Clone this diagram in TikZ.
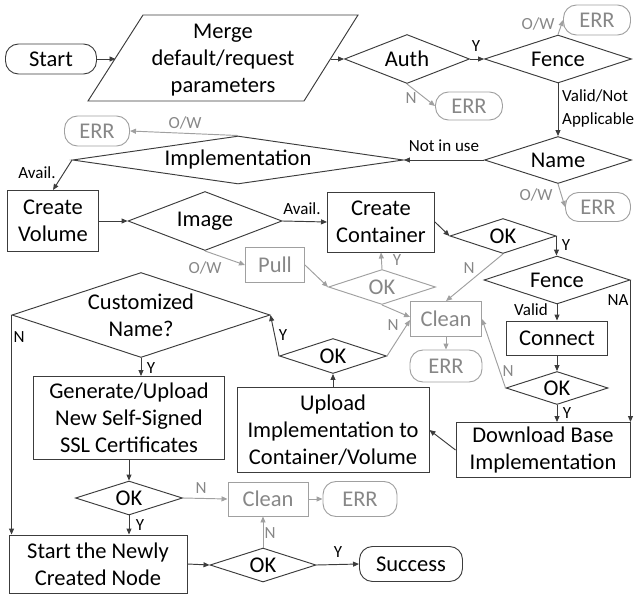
\documentclass[tikz,border=0pt]{standalone}
\usepackage{fontspec}
\setmainfont{Carlito}
\usetikzlibrary{shapes.geometric,arrows.meta}
\definecolor{ln}{RGB}{60,60,60}
\definecolor{gr}{RGB}{160,160,160}
\definecolor{grt}{RGB}{135,135,135}
\begin{document}
\begin{tikzpicture}[x=1pt,y=-1pt,
  every node/.style={font=\fontsize{22.5}{27}\selectfont, inner sep=0pt, align=center},
  box/.style 2 args={draw=ln, line width=0.95pt, rectangle, minimum width=#1, minimum height=#2},
  gbox/.style 2 args={draw=gr, text=grt, line width=0.95pt, rectangle, minimum width=#1, minimum height=#2},
  term/.style 2 args={draw=ln, line width=0.95pt, rectangle, rounded corners=13pt, minimum width=#1, minimum height=#2},
  gterm/.style 2 args={draw=gr, text=grt, line width=0.95pt, rectangle, rounded corners=13pt, minimum width=#1, minimum height=#2},
  dia/.style 2 args={draw=ln, line width=0.95pt, diamond, aspect=3, minimum width=#1, minimum height=#2},
  gdia/.style 2 args={draw=gr, text=grt, line width=0.95pt, diamond, aspect=3, minimum width=#1, minimum height=#2},
  arr/.style={draw=ln, line width=0.95pt, -{Triangle[length=6pt,width=5pt]}},
  garr/.style={draw=gr, line width=0.95pt, -{Triangle[length=6pt,width=5pt]}},
  lab/.style={font=\fontsize{17}{23}\selectfont},
  glab/.style={font=\fontsize{17}{23}\selectfont, text=grt}]
\useasboundingbox (0,0) rectangle (636,596);

% ---- nodes ----
\node[term={91}{30}] (start) at (51,59) {Start};
\draw[draw=ln, line width=0.95pt] (143,15) -- (358,15) -- (304,101) -- (88,101) -- cycle;
\node (merge) at (223,60) {Merge\\default/request\\parameters};
\coordinate (mergeL) at (115.5,59);
\coordinate (mergeR) at (331,59);
\node[dia={125}{49}] (auth) at (407,59) {Auth};
\node[dia={147}{48}] (fence1) at (558,59) {Fence};
\node[gterm={67}{30}] (err1) at (597,20) {ERR};
\node[gterm={67}{28}] (err2) at (469,106) {ERR};
\node[dia={147}{47}] (name) at (558,160) {Name};
\node[gterm={65}{29}] (err3) at (598,207) {ERR};
\node[dia={331}{48}, aspect=6.5] (impl) at (238,160) {Implementation};
\node[gterm={65}{30}] (err4) at (97,131) {ERR};
\node[box={91}{61}] (vol) at (53,221) {Create\\Volume};
\node[dia={154}{59}] (image) at (205,221) {Image};
\node[box={107}{60}] (cont) at (381,222) {Create\\Container};
\node[gbox={59}{35}] (pull) at (275,265) {Pull};
\node[gdia={107}{35}] (gok) at (382,287) {OK};
\node[gbox={71}{35}] (clean1) at (446,319) {Clean};
\node[gterm={72}{32}] (err5) at (446,366) {ERR};
\node[dia={106}{35}] (ok1) at (503,236) {OK};
\node[dia={146}{48}] (fence2) at (557,280) {Fence};
\node[box={101}{34}] (conn) at (557,338) {Connect};
\node[dia={102}{33}] (ok3) at (557,388) {OK};
\node[box={174}{55}] (down) at (543,450) {Download Base\\Implementation};
\node[box={192}{85}] (upl) at (333,430) {Upload\\Implementation to\\Container/Volume};
\node[dia={107}{35}] (ok2) at (333,356) {OK};
\node[dia={258}{85}] (cust) at (141,315) {Customized\\Name?};
\node[box={191}{83}] (gen) at (129,418) {Generate/Upload\\New Self-Signed\\SSL Certificates};
\node[dia={107}{34}] (ok4) at (129,498) {OK};
\node[gbox={80}{34}] (clean2) at (268,499) {Clean};
\node[gterm={74}{35}] (err6) at (360,499) {ERR};
\node[box={178}{58}] (snode) at (98,564) {Start the Newly\\Created Node};
\node[dia={106}{34}] (ok5) at (263,565) {OK};
\node[term={103}{35}] (succ) at (411,564) {Success};

% ---- connectors ----
\draw[arr] (start.east) -- (mergeL);
\draw[arr] (mergeR) -- (auth.west);
\draw[arr] (auth.east) -- (fence1.west);
\node[lab] (ly1) at (476,46) {Y};
\draw[garr] (fence1.north) -- (err1.west);
\node[glab] (low1) at (538,24) {O/W};
\draw[garr] (auth.south) -- (err2.west);
\node[glab] (ln1) at (411,98) {N};
\draw[arr] (fence1.south) -- (name.north);
\node[lab, align=left, anchor=west] (lvalid) at (562,108) {Valid/Not\\Applicable};
\draw[arr] (name.west) -- (impl.east);
\node[lab] (lnot) at (444,146) {Not in use};
\draw[garr] (name.south) -- (err3.west);
\node[glab] (low2) at (536,195) {O/W};
\draw[garr] (impl.north) -- (err4.east);
\node[glab] (low3) at (185,123) {O/W};
\draw[arr] (impl.west) -- (vol.north);
\node[lab] (lav1) at (37,173) {Avail.};
\draw[arr] (vol.east) -- (image.west);
\draw[arr] (image.east) -- (cont.west);
\node[lab] (lav2) at (302,209) {Avail.};
\draw[garr] (image.south) -- (pull.west);
\node[glab] (low4) at (205,268) {O/W};
\draw[garr] (pull.east) -- (gok.west);
\draw[garr] (gok.north) -- (cont.south);
\node[glab] (ly2) at (397,260) {Y};
\draw[garr] (gok.south) -- ([yshift=2pt]clean1.west);
\draw[garr] (clean1.south) -- (err5.north);
\draw[arr] (cont.east) -- (ok1.west);
\draw[arr] (ok1.east) -- (ok1.east |- fence2.north);
\node[lab] (ly3) at (566,245) {Y};
\draw[garr] (ok1.south) -- (clean1.north);
\node[glab] (ln2) at (469,268) {N};
\draw[arr] (fence2.south) -- (conn.north);
\node[lab] (lvalid2) at (531,310) {Valid};
\draw[arr] (fence2.east) -- (fence2.east |- down.north);
\node[lab] (lna) at (618,300) {NA};
\draw[arr] (conn.south) -- (ok3.north);
\draw[arr] (ok3.south) -- (ok3.south |- down.north);
\node[lab] (ly4) at (567,413) {Y};
\draw[garr] (ok3.west) -- (clean1.east);
\node[glab] (ln3) at (508,371) {N};
\draw[arr] (down.west) -- (upl.east);
\draw[arr] (upl.north) -- (ok2.south);
\draw[arr] (ok2.west) -- (cust.east);
\node[lab] (ly5) at (283,335) {Y};
\draw[garr] (ok2.east) -- ([yshift=-1pt]clean1.west);
\node[glab] (ln4) at (393,325) {N};
\draw[arr] (cust.west) -- (cust.west |- snode.north);
\node[lab] (ln5) at (19,337) {N};
\draw[arr] (cust.south) -- (cust.south |- gen.north);
\node[lab] (ly6) at (151,368) {Y};
\draw[arr] (gen.south) -- (ok4.north);
\draw[arr] (ok4.south) -- (ok4.south |- snode.north);
\node[lab] (ly7) at (140,525) {Y};
\draw[garr] (ok4.east) -- (clean2.west);
\node[glab] (ln6) at (201,488) {N};
\draw[garr] (clean2.east) -- (err6.west);
\draw[arr] (snode.east) -- (ok5.west);
\draw[garr] (ok5.north) -- (ok5.north |- clean2.south);
\node[glab] (ln7) at (270,533) {N};
\draw[arr] (ok5.east) -- (succ.west);
\node[lab] (ly8) at (338,552) {Y};
\end{tikzpicture}
\end{document}
